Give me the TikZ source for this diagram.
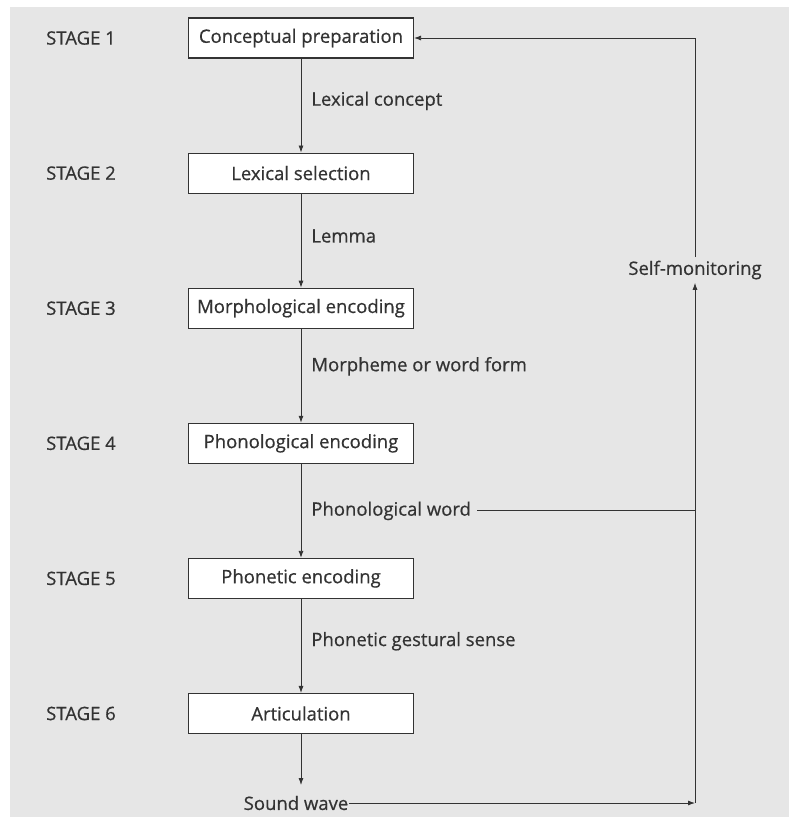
\documentclass[tikz,border=0pt]{standalone}
\usepackage{fontspec}
\setmainfont{Open Sans}[FakeBold=0.6]
\usepackage{xcolor}
\usetikzlibrary{arrows.meta,positioning}
\definecolor{scangray}{HTML}{E6E6E6}
\definecolor{inkgray}{HTML}{333333}

\begin{document}
\begin{tikzpicture}[
  x=1pt, y=-1pt,
  >={Latex[length=7pt,width=5pt]}, node distance=94pt,
  stagebox/.style={draw=inkgray, line width=1.1pt, fill=white, minimum width=225pt,
              minimum height=40pt, font=\fontsize{18.5}{21}\selectfont, text=inkgray},
  stagelbl/.style={anchor=west, inner sep=0pt, font=\fontsize{18.5}{21}\selectfont, text=inkgray},
  flowlbl/.style={right, inner sep=0pt, xshift=10pt, font=\fontsize{18.5}{21}\selectfont, text=inkgray},
  conn/.style={->, draw=inkgray, line width=0.8pt},
  plain/.style={draw=inkgray, line width=0.8pt}
]
\fill[scangray] (10,7) rectangle (789,817);
\useasboundingbox (0,0) rectangle (789,817);

% the six stages
\node[stagebox] (prep) at (301,38) {Conceptual preparation};
\node[stagebox, below=of prep] (sel)  {Lexical selection};
\node[stagebox, below=of sel]  (morph) {Morphological encoding};
\node[stagebox, below=of morph] (phon) {Phonological encoding};
\node[stagebox, below=of phon] (phnt) {Phonetic encoding};
\node[stagebox, below=of phnt] (art)  {Articulation};

\node[stagelbl] (st1) at (46,0 |- prep)  {STAGE 1};
\node[stagelbl] (st2) at (46,0 |- sel)   {STAGE 2};
\node[stagelbl] (st3) at (46,0 |- morph) {STAGE 3};
\node[stagelbl] (st4) at (46,0 |- phon)  {STAGE 4};
\node[stagelbl] (st5) at (46,0 |- phnt)  {STAGE 5};
\node[stagelbl] (st6) at (46,0 |- art)   {STAGE 6};

\node[text=inkgray, font=\fontsize{18.5}{21}\selectfont, inner sep=1pt] (sound) at (296,803) {Sound wave};
\node[text=inkgray, font=\fontsize{18.5}{21}\selectfont] (mon) at (695,270) {Self-monitoring};
\coordinate (corner) at (sound -| mon);

\draw[conn] (prep) -- node[flowlbl, pos=0.45] {Lexical concept} (sel);
\draw[conn] (sel) -- node[flowlbl, pos=0.45] {Lemma} (morph);
\draw[conn] (morph) -- node[flowlbl, pos=0.4] {Morpheme or word form} (phon);
\draw[conn] (phon) -- node[flowlbl, pos=0.5] (pw) {Phonological word} (phnt);
\draw[conn] (phnt) -- node[flowlbl, pos=0.45] {Phonetic gestural sense} (art);
\draw[conn, shorten >=18pt] (art) -- (art |- sound);

% monitoring loop
\draw[conn] (sound.east) -- (corner);
\draw[plain] (pw.east) ++(6pt,0) -- (pw -| corner);
\draw[conn] (corner) -- (mon.south);
\draw[conn] (mon.north) |- (prep.east);
\end{tikzpicture}
\end{document}
